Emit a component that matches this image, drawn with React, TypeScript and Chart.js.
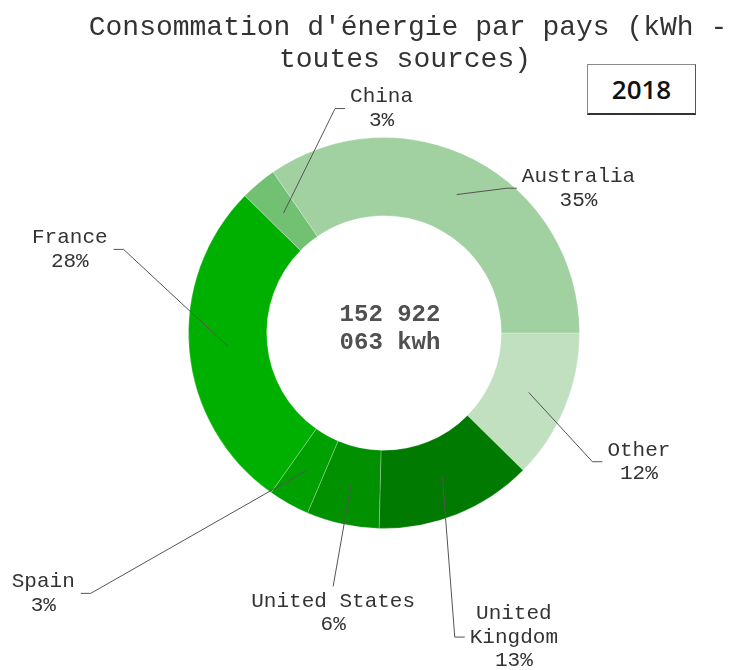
import React, { useEffect, useRef } from 'react';
import { Chart, registerables } from 'chart.js';

Chart.register(...registerables);

const categories = ['Other', 'United Kingdom', 'United States', 'Spain', 'France', 'China', 'Australia'];
const shares = [12.4, 13.0, 6.0, 3.4, 27.6, 3.0, 34.6];
const colors = ['#c0e0c0', '#007a00', '#009000', '#00a000', '#00b000', '#72c072', '#a1d1a1'];
const titleLines = ["Consommation d'énergie par pays (kWh -", 'toutes sources)'];
const totalLines = ['152 922', '063 kwh'];
const yearLabel = '2018';

// outside-label placement (angle in degrees clockwise from 3 o'clock, radius as a multiple of the outer radius)
const labelAngles = [31.7, 76.9, 101.35, 138.4, 197.8, 257.7, 310.3];
const labelRadii = [1.253, 1.597, 1.322, 2.006, 1.399, 1.175, 0.971];
const labelSides = ['right', 'right', 'below', 'left', 'left', 'right', 'right'];
const labelWrap = [false, true, false, false, false, false, false];

const MONO = '"Liberation Mono", "Courier New", monospace';

const outLabels = {
  id: 'outLabels',
  afterDatasetsDraw(chart: any) {
    const meta = chart.getDatasetMeta(0);
    const ctx = chart.ctx;
    const total = shares.reduce((a, b) => a + b, 0);
    meta.data.forEach((arc: any, i: number) => {
      const p = arc.getProps(['x', 'y', 'startAngle', 'endAngle', 'innerRadius', 'outerRadius'], true);
      const mid = (p.startAngle + p.endAngle) / 2;
      const rm = (p.innerRadius + p.outerRadius) / 2;
      const sx = p.x + Math.cos(mid) * rm;
      const sy = p.y + Math.sin(mid) * rm;
      const a = (labelAngles[i] * Math.PI) / 180;
      const ex = p.x + Math.cos(a) * p.outerRadius * labelRadii[i];
      const ey = p.y + Math.sin(a) * p.outerRadius * labelRadii[i];
      const side = labelSides[i];
      ctx.save();
      ctx.strokeStyle = '#555';
      ctx.lineWidth = 1;
      ctx.beginPath();
      ctx.moveTo(sx, sy);
      ctx.lineTo(ex, ey);
      let tx = ex;
      if (side === 'right') tx = ex + 10;
      if (side === 'left') tx = ex - 10;
      if (side !== 'below') ctx.lineTo(tx, ey);
      ctx.stroke();

      const lines = labelWrap[i] ? categories[i].split(' ') : [categories[i]];
      lines.push(Math.round((shares[i] / total) * 100) + '%');
      ctx.font = '21px ' + MONO;
      ctx.fillStyle = '#333';
      ctx.textAlign = 'center';
      ctx.textBaseline = 'middle';
      const blockW = Math.max(...lines.map((l) => ctx.measureText(l).width));
      const lh = 23.5;
      let cx: number;
      let y0: number;
      if (side === 'right') {
        cx = tx + 5 + blockW / 2;
        y0 = ey - ((lines.length - 1) / 2) * lh;
      } else if (side === 'left') {
        cx = tx - 6 - blockW / 2;
        y0 = ey - ((lines.length - 1) / 2) * lh;
      } else {
        cx = ex;
        y0 = ey + 15;
      }
      lines.forEach((l, k) => ctx.fillText(l, cx, y0 + k * lh));
      ctx.restore();
    });
  },
  afterDraw(chart: any) {
    const ctx = chart.ctx;
    const meta = chart.getDatasetMeta(0);
    const arc = meta.data[0];
    const { x, y } = arc.getProps(['x', 'y'], true);
    ctx.save();
    ctx.textAlign = 'center';
    ctx.textBaseline = 'middle';
    // centre total
    ctx.font = 'bold 24px ' + MONO;
    ctx.fillStyle = '#505050';
    ctx.fillText(totalLines[0], x + 6, y - 18);
    ctx.fillText(totalLines[1], x + 6, y + 10);
    // title
    ctx.font = '28px ' + MONO;
    ctx.fillStyle = '#333';
    ctx.fillText(titleLines[0], 408, 28);
    ctx.fillText(titleLines[1], 405, 60);
    ctx.restore();
  },
};

export default function App() {
  const ref = useRef<HTMLCanvasElement>(null);
  useEffect(() => {
    if (!ref.current) return;
    const chart = new Chart(ref.current, {
      type: 'doughnut',
      data: {
        labels: categories,
        datasets: [
          {
            data: shares,
            backgroundColor: colors,
            borderColor: 'rgba(255,255,255,0.25)',
            borderWidth: 1,
          },
        ],
      },
      options: {
        responsive: false,
        animation: false,
        rotation: 90,
        cutout: '60%',
        layout: { padding: { left: 188, right: 166, top: 137, bottom: 141 } },
        plugins: {
          legend: { display: false },
          tooltip: { enabled: false },
          title: { display: false },
        },
      },
      plugins: [outLabels],
    });
    return () => chart.destroy();
  }, []);
  return (
    <div style={{ position: 'absolute', left: 0, top: 0, width: 746, height: 670, background: '#fff' }}>
      <canvas ref={ref} width={746} height={670} />
      <div
        style={{
          position: 'absolute',
          left: 587,
          top: 64,
          width: 109,
          height: 51,
          boxSizing: 'border-box',
          border: '1px solid #8a8a8a',
          borderBottom: '2px solid #333',
          borderRight: '1px solid #555',
          background: '#fff',
          display: 'flex',
          alignItems: 'center',
          justifyContent: 'center',
          fontFamily: '"Open Sans", sans-serif',
          fontWeight: 600,
          fontSize: 26,
          color: '#111',
        }}
      >
        {yearLabel}
      </div>
    </div>
  );
}
